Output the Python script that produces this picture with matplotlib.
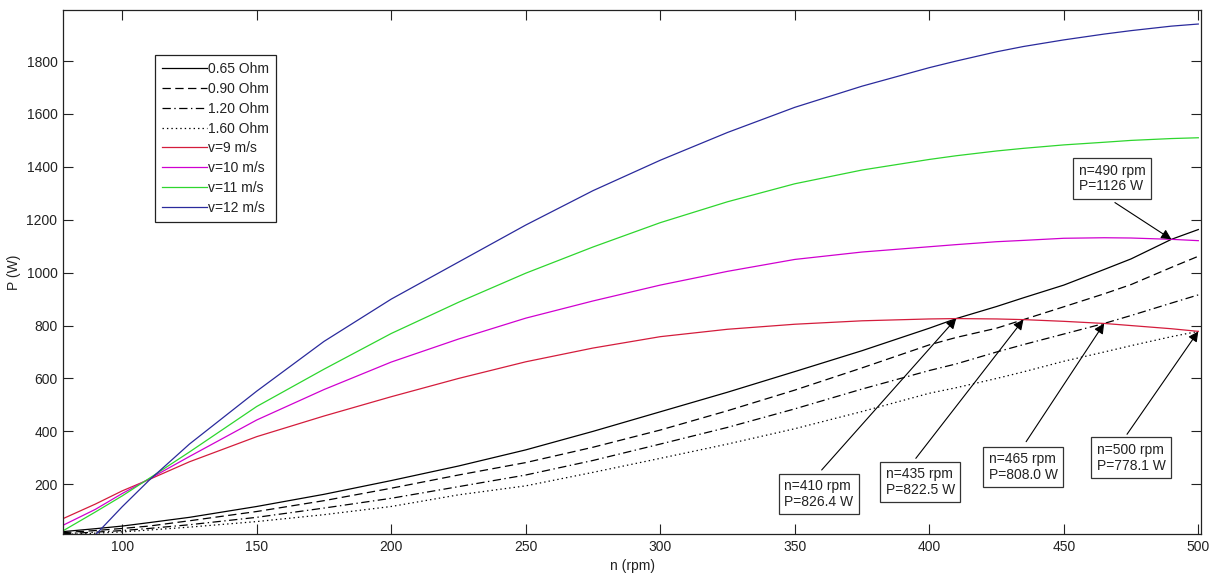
import matplotlib
matplotlib.use("Agg")
import matplotlib.pyplot as plt

plt.rcParams['font.family'] = ['Liberation Sans', 'DejaVu Sans']
plt.rcParams['lines.scale_dashes'] = False

# shaft speed grid (rpm)
n_rpm = [78, 90, 100, 110, 125, 150, 175, 200, 225, 250, 275, 300, 325, 350,
         375, 400, 410, 425, 435, 450, 465, 475, 490, 500]

# load curves (W)
p_065 = [21, 32, 42, 55, 75, 116, 162, 214, 269, 330, 400, 474, 548, 626,
         705, 790, 826.4, 872, 905, 953, 1012, 1052, 1126, 1163]
p_090 = [17, 25, 33, 42, 62, 97, 138, 185, 235, 282, 340, 405, 478, 556,
         640, 727, 755, 790, 822.5, 871, 920, 955, 1020, 1062]
p_120 = [13, 19, 25, 33, 47, 75, 110, 147, 191, 235, 290, 352, 415, 485,
         560, 630, 655, 700, 728, 768, 808.0, 838, 885, 916]
p_160 = [10, 15, 20, 27, 38, 59, 85, 116, 160, 194, 245, 298, 352, 410,
         475, 544, 565, 600, 625, 665, 700, 724, 758, 778.1]

# turbine curves (W)
p_v9 = [70, 125, 175, 218, 285, 380, 458, 531, 600, 663, 715, 758, 786, 805,
        818, 825, 826.4, 825, 822.5, 816, 808.0, 800, 788, 778.1]
p_v10 = [45, 105, 165, 220, 305, 443, 558, 662, 749, 828, 893, 953, 1005, 1050,
         1078, 1098, 1106, 1117, 1122, 1130, 1132, 1131, 1126, 1121]
p_v11 = [24, 95, 156, 222, 322, 494, 635, 770, 888, 998, 1097, 1189, 1268, 1336,
         1388, 1428, 1442, 1460, 1470, 1483, 1493, 1500, 1507, 1510]
p_v12 = [-120, 8, 115, 215, 352, 552, 740, 900, 1040, 1180, 1310, 1425, 1530, 1625,
         1705, 1775, 1800, 1835, 1855, 1880, 1902, 1915, 1932, 1940]

labels = ['0.65 Ohm', '0.90 Ohm', '1.20 Ohm', '1.60 Ohm',
          'v=9 m/s', 'v=10 m/s', 'v=11 m/s', 'v=12 m/s']

# annotations
ann_text = ['n=410 rpm\nP=826.4 W', 'n=435 rpm\nP=822.5 W', 'n=465 rpm\nP=808.0 W',
            'n=500 rpm\nP=778.1 W', 'n=490 rpm\nP=1126 W']
ann_n = [410, 435, 465, 500, 490]
ann_p = [826.4, 822.5, 808.0, 778.1, 1126]
box_n = [358.9, 396.6, 435, 475, 468]
box_p = [163, 209, 265, 300, 1356]
tail_n = [360, 395, 436, 473.5, 469]
tail_p = [254, 298, 361, 389, 1265]

FS = 10
TXT = '#222222'

fig = plt.figure(figsize=(12.15, 5.75), dpi=100)
ax = fig.add_axes([63 / 1215, 41 / 575, 1138 / 1215, 524 / 575])

ax.plot(n_rpm, p_065, color='k', lw=0.9, ls='-', label=labels[0])
ax.plot(n_rpm, p_090, color='k', lw=0.9, ls=(0, (6, 3.2)), label=labels[1])
ax.plot(n_rpm, p_120, color='k', lw=0.9, ls=(0, (6, 2.5, 1, 2.5)), label=labels[2])
ax.plot(n_rpm, p_160, color='k', lw=0.9, ls=(0, (1, 2.2)), label=labels[3])
ax.plot(n_rpm, p_v9, color='#d41c3c', lw=0.9, label=labels[4])
ax.plot(n_rpm, p_v10, color='#d000d0', lw=0.9, label=labels[5])
ax.plot(n_rpm, p_v11, color='#2ed62e', lw=0.9, label=labels[6])
ax.plot(n_rpm, p_v12, color='#2a2a9c', lw=0.9, label=labels[7])

for t, xn, yp, bx, by, tx, ty in zip(ann_text, ann_n, ann_p, box_n, box_p, tail_n, tail_p):
    ax.text(bx, by, t, ha='center', va='center', multialignment='left', fontsize=FS,
            color=TXT, linespacing=1.15,
            bbox=dict(boxstyle='square,pad=0.4', fc='white', ec='#333333', lw=0.9))
    ax.annotate('', xy=(xn, yp), xytext=(tx, ty),
                arrowprops=dict(arrowstyle='-|>', color='k', lw=0.8,
                                mutation_scale=15, shrinkA=0, shrinkB=0))

ax.set_xlim(78, 501)
ax.set_ylim(12, 1993)
ax.set_xticks([100, 150, 200, 250, 300, 350, 400, 450, 500])
ax.set_yticks([200, 400, 600, 800, 1000, 1200, 1400, 1600, 1800])
ax.tick_params(direction='in', length=7, width=0.8, top=True, right=True,
               labelsize=FS, pad=4, colors=TXT)
for s in ax.spines.values():
    s.set_linewidth(0.9)
    s.set_color(TXT)

ax.set_xlabel('n (rpm)', fontsize=FS, color=TXT, labelpad=4)
ax.set_ylabel('P (W)', fontsize=FS, color=TXT, labelpad=4)

leg = ax.legend(loc='upper left', bbox_to_anchor=(0.081, 0.914), fontsize=FS,
                frameon=True, fancybox=False, edgecolor=TXT, framealpha=1,
                handlelength=3.2, handletextpad=0.1, labelspacing=0.42,
                borderpad=0.5, borderaxespad=0)
leg.get_frame().set_linewidth(0.9)
for txt in leg.get_texts():
    txt.set_color(TXT)

fig.savefig('out.png', dpi=100)
